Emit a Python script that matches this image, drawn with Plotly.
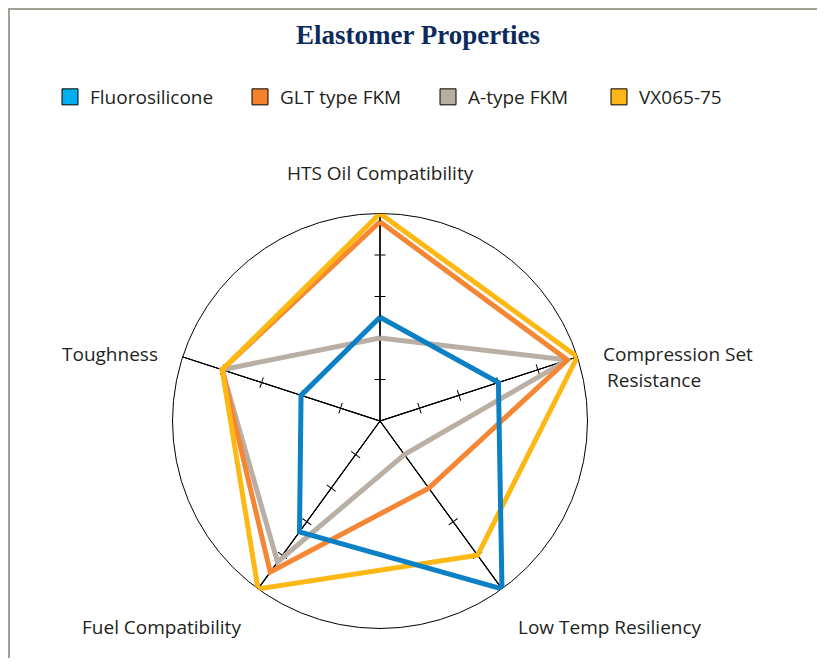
import plotly.graph_objects as go

W, H = 817, 650   # fits inside the 825x666 window with the 8px body margin
OX, OY = 8, 8     # page body margin offset

categories = ["HTS Oil Compatibility", "Compression Set Resistance",
              "Low Temp Resiliency", "Fuel Compatibility", "Toughness"]
series_names = ["Fluorosilicone", "GLT type FKM", "A-type FKM", "VX065-75"]
fluorosilicone = [2.5, 3.0, 5.0, 3.3, 2.0]
glt_fkm = [4.8, 4.75, 2.0, 4.5, 4.0]
a_type_fkm = [2.0, 4.75, 1.0, 4.2, 4.0]
vx065_75 = [5.0, 5.0, 4.0, 5.0, 4.0]
radial_ticks = [1, 2, 3, 4]
r_max = 5

line_colors = ["#0b80c5", "#f58634", "#b9afa5", "#fdb814"]
legend_colors = ["#00aeef", "#f5822a", "#b8afa2", "#fcb616"]
series_values = [fluorosilicone, glt_fkm, a_type_fkm, vx065_75]


def px(x):
    return (x - OX) / W


def py(y):
    return 1 - (y - OY) / H


# geometry (page pixels)
cx, cy, R = 380, 421, 207.5
dom_x = [px(cx - R), px(cx + R)]
dom_y = [py(cy + R), py(cy - R)]

fig = go.Figure()
layout = {}

spoke_angles = [90 - 72 * i for i in range(len(categories))]

idx = 1
for ang in spoke_angles:
    for side in ["clockwise", "counterclockwise"]:
        name = "polar" if idx == 1 else f"polar{idx}"
        fig.add_trace(go.Scatterpolar(r=[0], theta=[0], mode="markers",
                                      marker=dict(opacity=0), showlegend=False,
                                      hoverinfo="skip", subplot=name))
        layout[name] = dict(
            domain=dict(x=dom_x, y=dom_y),
            bgcolor="rgba(0,0,0,0)",
            angularaxis=dict(visible=False),
            radialaxis=dict(range=[0, r_max], angle=ang, side=side,
                            tickvals=radial_ticks, ticks="outside", ticklen=5,
                            tickwidth=1, tickcolor="black",
                            showticklabels=False, showgrid=False,
                            showline=True, linecolor="black", linewidth=1),
        )
        idx += 1

data_polar = f"polar{idx}"
layout[data_polar] = dict(
    domain=dict(x=dom_x, y=dom_y),
    bgcolor="rgba(0,0,0,0)",
    angularaxis=dict(type="category", categoryarray=categories,
                     rotation=90, direction="clockwise",
                     showline=True, linecolor="black", linewidth=1,
                     showgrid=True, gridcolor="black", gridwidth=1,
                     ticks="", showticklabels=False, layer="below traces"),
    radialaxis=dict(range=[0, r_max], visible=False),
)

draw_order = [2, 1, 3, 0]
for i in draw_order:
    vals = series_values[i]
    fig.add_trace(go.Scatterpolar(
        r=vals + vals[:1], theta=categories + categories[:1],
        mode="lines", line=dict(color=line_colors[i], width=5),
        name=series_names[i], showlegend=False, subplot=data_polar,
        hoverinfo="name+r+theta"))

text_font = dict(family="Open Sans", size=19, color="#231f20")

legend_x = [50, 240, 428, 599]
for i, nm in enumerate(series_names):
    lg = "legend" if i == 0 else f"legend{i+1}"
    fig.add_trace(go.Scatterpolar(
        r=[None], theta=[None], mode="markers", name=nm,
        marker=dict(symbol="square", size=16, color=legend_colors[i],
                    line=dict(color="black", width=1)),
        subplot=data_polar, legend=lg, showlegend=True))
    layout[lg] = dict(x=px(legend_x[i]), y=py(97), xanchor="left",
                      yanchor="middle", bgcolor="rgba(0,0,0,0)",
                      font=text_font)

labels = [
    ("HTS Oil Compatibility", 380, 173, "center"),
    ("Compression Set", 601, 354, "left"),
    ("Resistance", 605, 380, "left"),
    ("Low Temp Resiliency", 610, 627, "center"),
    ("Fuel Compatibility", 161, 627, "center"),
    ("Toughness", 110, 354, "center"),
]
annotations = []
for txt, x, y, anc in labels:
    annotations.append(dict(text=txt, x=px(x), y=py(y), xref="paper",
                            yref="paper", xanchor=anc, yanchor="middle",
                            showarrow=False, font=text_font))

shapes = [dict(type="path", xref="paper", yref="paper",
               path=f"M {1/W} {-0.1} L {1/W} {1 - 1/H} L {1.1} {1 - 1/H}",
               line=dict(color="#a39f94", width=2))]

fig.update_layout(
    width=W, height=H, autosize=False,
    margin=dict(l=0, r=0, t=0, b=0),
    paper_bgcolor="white", plot_bgcolor="white",
    title=dict(text="<b>Elastomer Properties</b>", x=px(418), y=py(35),
               xanchor="center", yanchor="middle",
               font=dict(family="Liberation Serif", size=27, color="#0d2a5c")),
    annotations=annotations, shapes=shapes,
    **layout,
)

fig.write_html("out.html")
